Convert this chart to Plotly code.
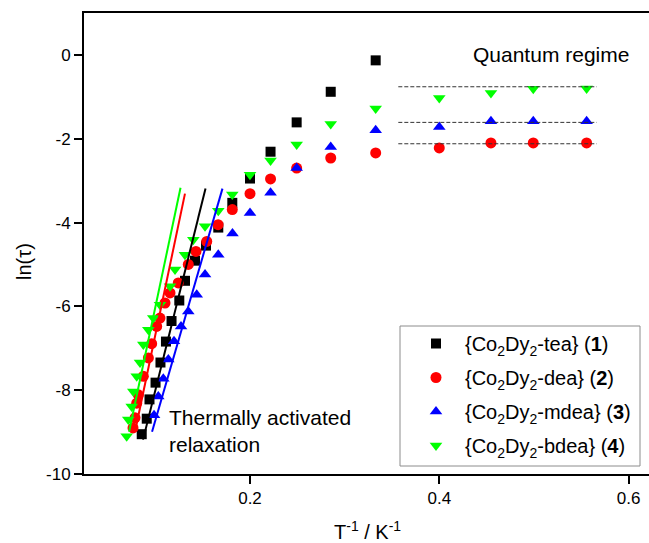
import plotly.graph_objects as go

# ---------------- data ----------------
invT_tea = [0.3328, 0.2853, 0.2493, 0.2217, 0.2000, 0.1813, 0.1665, 0.1535, 0.1419, 0.1313,
            0.1253, 0.1171, 0.1112, 0.1054, 0.1002, 0.0938, 0.0909, 0.0856]
lntau_tea = [-0.13, -0.88, -1.61, -2.31, -2.95, -3.53, -4.12, -4.55, -4.91, -5.39,
             -5.86, -6.35, -6.84, -7.34, -7.82, -8.22, -8.68, -9.05]

invT_dea = [0.5557, 0.4993, 0.4546, 0.4000, 0.3328, 0.2853, 0.2493, 0.2217, 0.2000, 0.1813,
            0.1663, 0.1543, 0.1429, 0.1348, 0.1242, 0.1155, 0.1102, 0.1049, 0.1014, 0.0961,
            0.0926, 0.0873, 0.0820, 0.0803, 0.0785, 0.0764]
lntau_dea = [-2.10, -2.10, -2.10, -2.22, -2.34, -2.46, -2.70, -2.96, -3.31, -3.69,
             -4.05, -4.45, -4.69, -5.00, -5.44, -5.68, -5.92, -6.28, -6.48, -6.89,
             -7.23, -7.67, -8.11, -8.31, -8.66, -8.90]

invT_mdea = [0.5557, 0.4993, 0.4546, 0.4000, 0.3328, 0.2853, 0.2493, 0.2217, 0.2000, 0.1815,
             0.1665, 0.1525, 0.1437, 0.1348, 0.1271, 0.1197, 0.1137, 0.1084, 0.1031, 0.0986]
lntau_mdea = [-1.58, -1.58, -1.58, -1.72, -1.80, -2.20, -2.70, -3.29, -3.77, -4.26,
              -4.77, -5.24, -5.72, -6.12, -6.48, -6.83, -7.27, -7.73, -8.15, -8.60]

invT_bdea = [0.5557, 0.4993, 0.4546, 0.4000, 0.3328, 0.2853, 0.2493, 0.2217, 0.2000, 0.1813,
             0.1665, 0.1525, 0.1401, 0.1313, 0.1208, 0.1155, 0.1049, 0.0978, 0.0926, 0.0873,
             0.0838, 0.0803, 0.0767, 0.0750, 0.0714, 0.0697]
lntau_bdea = [-0.80, -0.81, -0.91, -1.03, -1.28, -1.65, -2.14, -2.52, -2.86, -3.33,
              -3.72, -4.09, -4.41, -4.77, -5.12, -5.52, -5.96, -6.28, -6.56, -6.91,
              -7.34, -7.67, -8.03, -8.39, -8.70, -9.10]

# Arrhenius fit lines (end points)
fit_x_tea = [0.0870, 0.1530]
fit_y_tea = [-9.18, -3.19]
fit_x_dea = [0.0785, 0.1313]
fit_y_dea = [-8.99, -3.31]
fit_x_mdea = [0.0965, 0.1709]
fit_y_mdea = [-8.99, -3.19]
fit_x_bdea = [0.0722, 0.1266]
fit_y_bdea = [-8.99, -3.17]

# Quantum-regime plateau levels
qtm_x = [0.3567, 0.5663]
qtm_levels = [-0.76, -1.61, -2.12]

names = ["{Co<sub>2</sub>Dy<sub>2</sub>-tea} (<b>1</b>)",
         "{Co<sub>2</sub>Dy<sub>2</sub>-dea} (<b>2</b>)",
         "{Co<sub>2</sub>Dy<sub>2</sub>-mdea} (<b>3</b>)",
         "{Co<sub>2</sub>Dy<sub>2</sub>-bdea} (<b>4</b>)"]

x_ticks = [0.2, 0.4, 0.6]
y_ticks = [-10, -8, -6, -4, -2, 0]

# ---------------- figure ----------------
FONT = "Arial, Liberation Sans, Helvetica, sans-serif"
series = [
    (invT_tea, lntau_tea, fit_x_tea, fit_y_tea, "#000000", "square", 10),
    (invT_dea, lntau_dea, fit_x_dea, fit_y_dea, "#FF0000", "circle", 11),
    (invT_mdea, lntau_mdea, fit_x_mdea, fit_y_mdea, "#0000FF", "triangle-up", 11),
    (invT_bdea, lntau_bdea, fit_x_bdea, fit_y_bdea, "#00FF00", "triangle-down", 11),
]

fig = go.Figure()
for i, (x, y, fx, fy, col, sym, sz) in enumerate(series):
    fig.add_trace(go.Scatter(
        x=x, y=y, mode="markers", name=names[i], legendgroup=f"g{i}",
        marker=dict(symbol=sym, size=sz, color=col, line=dict(width=0)),
    ))
for i, (x, y, fx, fy, col, sym, sz) in enumerate(series):
    fig.add_trace(go.Scatter(
        x=fx, y=fy, mode="lines", showlegend=False, hoverinfo="skip",
        line=dict(color=col, width=2),
    ))
for lvl in qtm_levels:
    fig.add_trace(go.Scatter(
        x=qtm_x, y=[lvl, lvl], mode="lines", showlegend=False, hoverinfo="skip",
        line=dict(color="#333333", width=1, dash="4px,2px"),
    ))

# legend frame
fig.add_shape(type="rect", xref="paper", yref="paper",
              x0=(400 - 84) / 565, x1=(640 - 84) / 565,
              y0=(474 - 466) / 461, y1=(474 - 326) / 461,
              line=dict(color="#8c8c8c", width=1), fillcolor="white", layer="below")

fig.add_annotation(x=0.518, y=0.0, xref="x", yref="y", text="Quantum regime",
                   showarrow=False, font=dict(family=FONT, size=21, color="black"),
                   xanchor="center", yanchor="middle")
fig.add_annotation(x=0.112, y=-8.97, xref="x", yref="y",
                   text="Thermally activated<br>relaxation", align="left",
                   showarrow=False, font=dict(family=FONT, size=21, color="black"),
                   xanchor="left", yanchor="middle")
fig.add_annotation(x=(24 - 84) / 565, y=(474 - 262) / 461, xref="paper", yref="paper",
                   text="ln(τ)", textangle=-90, showarrow=False,
                   font=dict(family=FONT, size=20, color="black"),
                   xanchor="center", yanchor="middle")
fig.add_annotation(x=(367 - 84) / 565, y=-(530 - 474) / 461, xref="paper", yref="paper",
                   text="T<sup>-1</sup> / K<sup>-1</sup>", showarrow=False,
                   font=dict(family=FONT, size=20, color="black"),
                   xanchor="center", yanchor="middle")

fig.update_layout(
    width=649, height=543,
    margin=dict(l=84, r=0, t=13, b=69),
    paper_bgcolor="white", plot_bgcolor="white",
    font=dict(family=FONT, size=17, color="black"),
    showlegend=True,
    legend=dict(
        x=(407 - 84) / 565, y=(474 - 324) / 461, xanchor="left", yanchor="top",
        bgcolor="rgba(0,0,0,0)", borderwidth=0,
        font=dict(family=FONT, size=20, color="black"),
        traceorder="grouped", tracegroupgap=5, itemwidth=48,
    ),
    xaxis=dict(
        range=[0.0246, 0.6216], tickvals=x_ticks, ticktext=[str(v) for v in x_ticks],
        showgrid=False, zeroline=False, showline=True, linecolor="black", linewidth=2,
        mirror=True, ticks="outside", ticklen=8, tickwidth=2, tickcolor="black",
        tickfont=dict(size=17), automargin=False,
    ),
    yaxis=dict(
        range=[-10, 1.0], tickvals=y_ticks, ticktext=[str(v) for v in y_ticks],
        showgrid=False, zeroline=False, showline=True, linecolor="black", linewidth=2,
        ticks="outside", ticklen=8, tickwidth=2, tickcolor="black",
        tickfont=dict(size=17), automargin=False,
    ),
)

fig.write_html("out.html",
               config={"displayModeBar": False},
               post_script="document.body.style.margin='0';document.body.style.padding='0';")
